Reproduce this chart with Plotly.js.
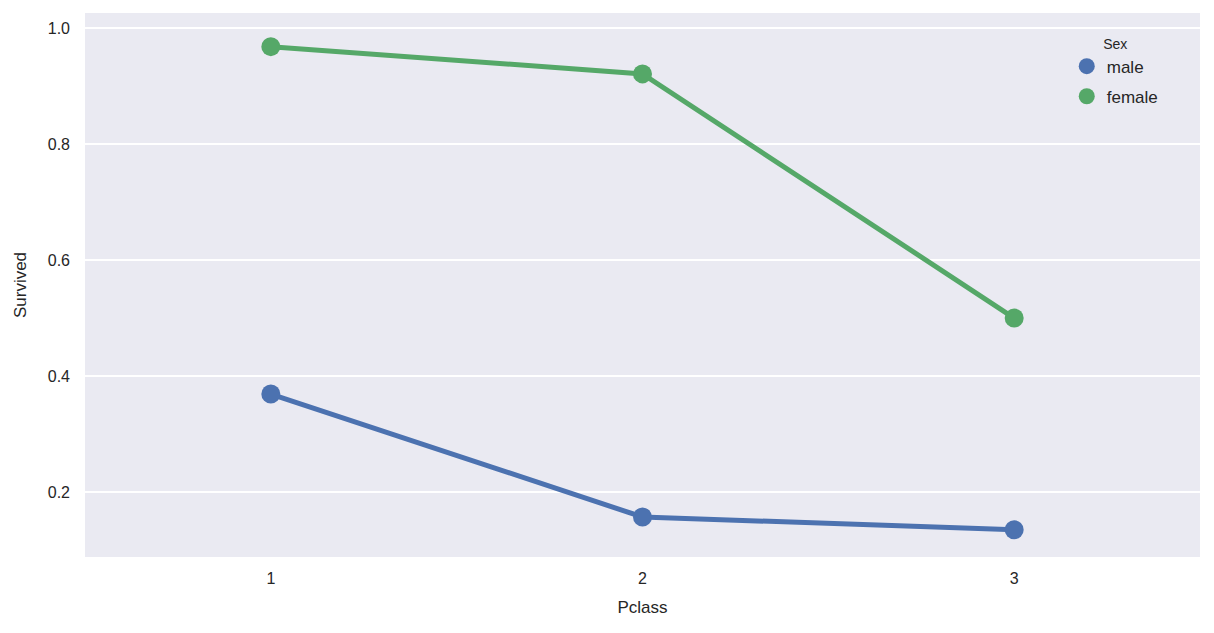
<!DOCTYPE html>
<html>
<head>
<meta charset="utf-8">
<script src="https://cdn.plot.ly/plotly-3.0.1.min.js"></script>
<style>html,body{margin:0;padding:0;background:#fff;}#chart{width:1214px;height:633px;}</style>
</head>
<body>
<div id="chart"></div>
<script>
const pclass = ["1", "2", "3"];
const maleSurvived = [0.369, 0.157, 0.135];
const femaleSurvived = [0.968, 0.921, 0.500];
const seriesNames = ["male", "female"];
const colors = ["#4c72b0", "#55a868"];
const yTicks = [0.2, 0.4, 0.6, 0.8, 1.0];
const yTickLabels = ["0.2", "0.4", "0.6", "0.8", "1.0"];

const series = [maleSurvived, femaleSurvived];
const traces = [];
series.forEach((vals, i) => {
  traces.push({
    x: pclass, y: vals, type: "scatter", mode: "lines",
    line: {color: colors[i], width: 5}, showlegend: false, hoverinfo: "skip"
  });
});
series.forEach((vals, i) => {
  traces.push({
    x: pclass, y: vals, type: "scatter", mode: "markers", name: seriesNames[i],
    legendgroup: "g" + i,
    marker: {color: colors[i], size: 19}, showlegend: true
  });
});

const font = "Liberation Sans, Arial, sans-serif";
const layout = {
  width: 1214, height: 633,
  margin: {l: 85, r: 14, t: 13, b: 76, pad: 0},
  paper_bgcolor: "#ffffff",
  plot_bgcolor: "#eaeaf2",
  font: {family: font, color: "#262626", size: 16},
  xaxis: {
    type: "category", range: [-0.5, 2.5],
    showgrid: false, zeroline: false, showline: false,
    ticks: "", tickfont: {size: 16, color: "#262626"}, ticklabelstandoff: 10,
    title: {text: "Pclass", font: {size: 17, color: "#262626"}, standoff: 15}
  },
  yaxis: {
    range: [0.088, 1.026],
    tickvals: yTicks, ticktext: yTickLabels,
    showgrid: true, gridcolor: "#ffffff", gridwidth: 1.3,
    zeroline: false, showline: false, ticks: "",
    tickfont: {size: 16, color: "#262626"}, ticklabelstandoff: 14,
    title: {text: "Survived", font: {size: 17, color: "#262626"}, standoff: 16}
  },
  legend: {
    x: 0.8805, xanchor: "left", y: 0.968, yanchor: "top",
    bgcolor: "rgba(0,0,0,0)",
    font: {size: 17, color: "#262626"},
    title: {text: "Sex", side: "top center", font: {size: 14, color: "#262626"}},
    itemsizing: "trace",
    tracegroupgap: 5
  },
  showlegend: true
};

Plotly.newPlot("chart", traces, layout, {displayModeBar: false, staticPlot: true});
</script>
</body>
</html>
